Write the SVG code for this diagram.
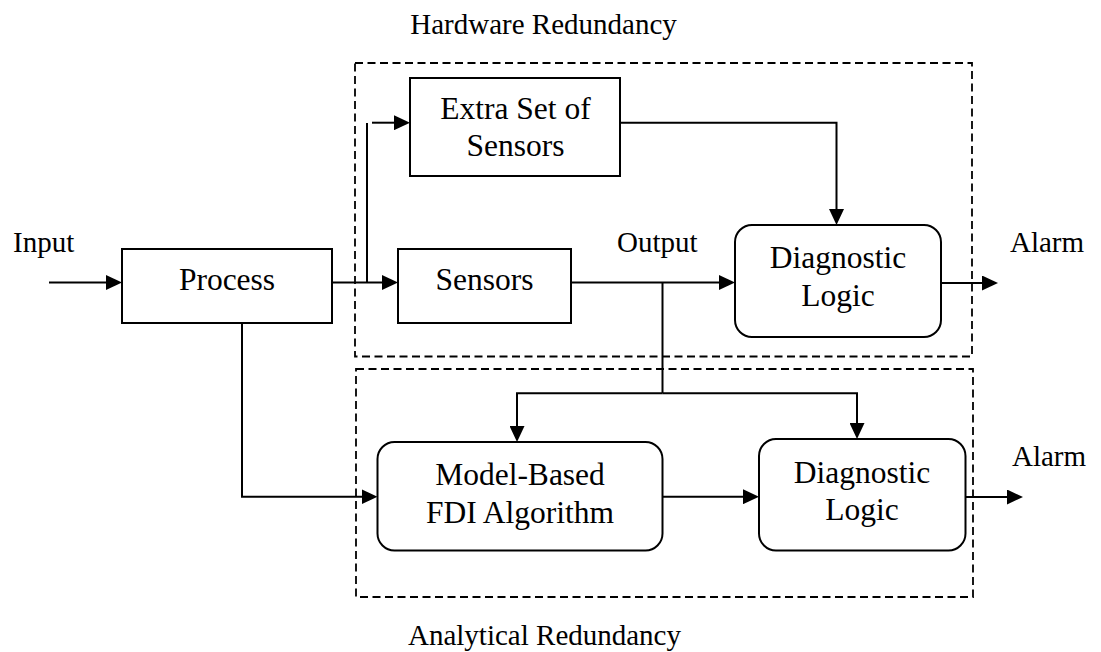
<svg xmlns="http://www.w3.org/2000/svg" width="1101" height="652" viewBox="0 0 1101 652">
  <style>
    .box { fill: #fff; stroke: #000; stroke-width: 2; }
    .zone { fill: none; stroke: #000; stroke-width: 1.8; stroke-dasharray: 8 4.5; }
    .wire { fill: none; stroke: #000; stroke-width: 2; }
    .arrow { marker-end: url(#head); }
    text { font-family: "Liberation Serif", "Times New Roman", serif; fill: #000; }
    .node { font-size: 31.5px; text-anchor: middle; }
    .label { font-size: 29px; }
    .title { font-size: 29px; text-anchor: middle; }
  </style>
  <defs>
    <marker id="head" markerUnits="userSpaceOnUse" markerWidth="16" markerHeight="15" refX="6" refY="7.5" orient="auto">
      <path d="M0,0 L16,7.5 L0,15 Z" fill="#000"/>
    </marker>
  </defs>
  <rect width="1101" height="652" fill="#fff"/>

  <!-- redundancy zones -->
  <g id="hardware-redundancy">
    <rect class="zone" x="355" y="63" width="617" height="293.5"/>
    <text class="title" x="543.5" y="34">Hardware Redundancy</text>
  </g>
  <g id="analytical-redundancy">
    <rect class="zone" x="356" y="369" width="617" height="228"/>
    <text class="title" x="544.5" y="645">Analytical Redundancy</text>
  </g>

  <!-- connectors -->
  <g id="connectors">
    <path class="wire arrow" d="M49,282.5 H112"/>
    <path class="wire arrow" d="M332,282.5 H388"/>
    <path class="wire" d="M367,282.5 V123"/>
    <path class="wire arrow" d="M372,122.7 H400"/>
    <path class="wire arrow" d="M620,122.7 H836.5 V215"/>
    <path class="wire arrow" d="M571,282.5 H725"/>
    <path class="wire arrow" d="M941,283 H988"/>
    <path class="wire" d="M662.5,282.5 V393.3"/>
    <path class="wire arrow" d="M662.5,393.3 H517 V432"/>
    <path class="wire arrow" d="M662.5,393.3 H857 V429"/>
    <path class="wire arrow" d="M242,323 V496.7 H367.5"/>
    <path class="wire arrow" d="M659,496.7 H749"/>
    <path class="wire arrow" d="M966,497 H1013"/>
  </g>

  <!-- free labels -->
  <g id="labels">
    <text class="label" x="13" y="252">Input</text>
    <text class="label" x="617" y="252">Output</text>
    <text class="label" x="1010" y="252">Alarm</text>
    <text class="label" x="1012" y="466">Alarm</text>
  </g>

  <!-- blocks -->
  <g id="process">
    <rect class="box" x="122" y="249" width="210" height="74"/>
    <text class="node" x="227" y="289.5">Process</text>
  </g>
  <g id="extra-sensors">
    <rect class="box" x="410" y="78" width="210" height="98"/>
    <text class="node" x="515.5" y="118.5">Extra Set of</text>
    <text class="node" x="515.5" y="156">Sensors</text>
  </g>
  <g id="sensors">
    <rect class="box" x="398" y="249" width="173" height="74"/>
    <text class="node" x="484.5" y="290">Sensors</text>
  </g>
  <g id="diagnostic-logic-hw">
    <rect class="box" x="735" y="225" width="206" height="112" rx="17"/>
    <text class="node" x="838" y="268.3">Diagnostic</text>
    <text class="node" x="838" y="306">Logic</text>
  </g>
  <g id="fdi-algorithm">
    <rect class="box" x="377.5" y="442" width="285" height="108.5" rx="17"/>
    <text class="node" x="520" y="484.5">Model-Based</text>
    <text class="node" x="520" y="522.7">FDI Algorithm</text>
  </g>
  <g id="diagnostic-logic-an">
    <rect class="box" x="759" y="439" width="206.5" height="111.5" rx="17"/>
    <text class="node" x="862" y="482.7">Diagnostic</text>
    <text class="node" x="862" y="520">Logic</text>
  </g>
</svg>
